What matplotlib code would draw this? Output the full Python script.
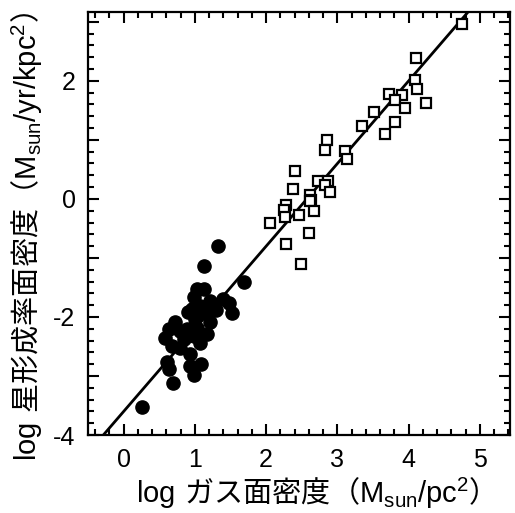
import numpy as np
import matplotlib
matplotlib.use("Agg")
import matplotlib.pyplot as plt
from matplotlib.ticker import MultipleLocator

plt.rcParams['font.family'] = ['Liberation Sans', 'Noto Sans CJK JP']
plt.rcParams['axes.unicode_minus'] = False
# mathtext: \mathrm -> CJK font, \mathsf -> Latin font
plt.rcParams['mathtext.fontset'] = 'custom'
plt.rcParams['mathtext.rm'] = 'Noto Sans CJK JP'
plt.rcParams['mathtext.sf'] = 'Liberation Sans'

# starburst galaxies (open squares)
sb_gas = [4.75, 4.10, 4.09, 4.11, 4.25, 3.73, 3.90, 3.81, 3.95, 3.81, 3.67, 3.52, 3.35,
          2.86, 2.83, 3.11, 3.13, 2.41, 2.38, 2.73, 2.87, 2.83, 2.90, 2.61, 2.63, 2.61,
          2.67, 2.28, 2.25, 2.26, 2.46, 2.06, 2.60, 2.28, 2.49]
sb_sfr = [2.97, 2.39, 2.02, 1.86, 1.62, 1.78, 1.76, 1.68, 1.54, 1.31, 1.10, 1.48, 1.24,
          1.00, 0.83, 0.82, 0.68, 0.48, 0.16, 0.31, 0.31, 0.24, 0.11, 0.07, -0.01, -0.04,
          -0.20, -0.10, -0.19, -0.31, -0.28, -0.41, -0.57, -0.77, -1.10]

# normal disk galaxies (filled circles)
disk_gas = [1.33, 1.13, 1.69, 1.03, 1.13, 0.98, 1.21, 1.39, 1.48, 1.52, 1.30, 0.90,
            0.72, 0.64, 0.58, 0.68, 0.79, 0.93, 0.93, 1.08, 0.98, 0.61, 0.63, 0.69, 0.25,
            1.07, 1.14, 1.21, 1.17, 1.07, 0.98, 0.89, 1.00, 0.84, 0.79, 1.03, 0.96, 1.24]
disk_sfr = [-0.80, -1.14, -1.40, -1.53, -1.53, -1.66, -1.73, -1.69, -1.76, -1.93, -1.88, -1.92,
            -2.08, -2.21, -2.35, -2.49, -2.52, -2.63, -2.83, -2.79, -2.98, -2.76, -2.88, -3.12, -3.53,
            -1.81, -1.93, -2.09, -2.29, -2.44, -2.32, -2.21, -2.04, -2.38, -2.24, -2.18, -1.87, -1.84]

# Schmidt law fit: log SFR = slope * log gas + intercept
slope = 1.4
intercept = -3.6
fit_x = [-0.6, 5.5]

fig = plt.figure(figsize=(5.15, 5.13), dpi=100)
ax = fig.add_axes([0.171, 0.152, 0.819, 0.825])

ax.plot(fit_x, [slope * v + intercept for v in fit_x], color='black', lw=2.0, zorder=1)
ax.plot(disk_gas, disk_sfr, 'o', ms=9.5, color='black', zorder=2)
ax.plot(sb_gas, sb_sfr, 's', ms=7, mfc='white', mec='black', mew=1.6, zorder=3)

ax.set_xlim(-0.5, 5.42)
ax.set_ylim(-4, 3.17)

ax.xaxis.set_major_locator(MultipleLocator(1))
ax.xaxis.set_minor_locator(MultipleLocator(0.2))
ax.yaxis.set_major_locator(MultipleLocator(1))
ax.yaxis.set_minor_locator(MultipleLocator(0.2))
ax.yaxis.set_major_formatter(plt.FuncFormatter(lambda v, p: f"{int(round(v))}" if round(v) % 2 == 0 else ""))
ax.tick_params(which='both', direction='in', top=True, right=True, width=1.5, labelsize=18, pad=9)
ax.tick_params(which='major', length=8)
ax.tick_params(which='minor', length=4.5)
for s in ax.spines.values():
    s.set_linewidth(1.6)

ax.set_xlabel(r"$\mathsf{log}\ \mathrm{ガス面密度（}\mathsf{M_{sun}/pc^2}\mathrm{）}$",
              fontsize=21, labelpad=3)
ax.set_ylabel(r"$\mathsf{log}\ \mathrm{星形成率面密度（}\mathsf{M_{sun}/yr/kpc^2}\mathrm{）}$",
              fontsize=21, labelpad=6)
ax.yaxis.label.set_y(0.47)
ax.xaxis.label.set_x(0.52)

fig.savefig("out.png", dpi=100)
